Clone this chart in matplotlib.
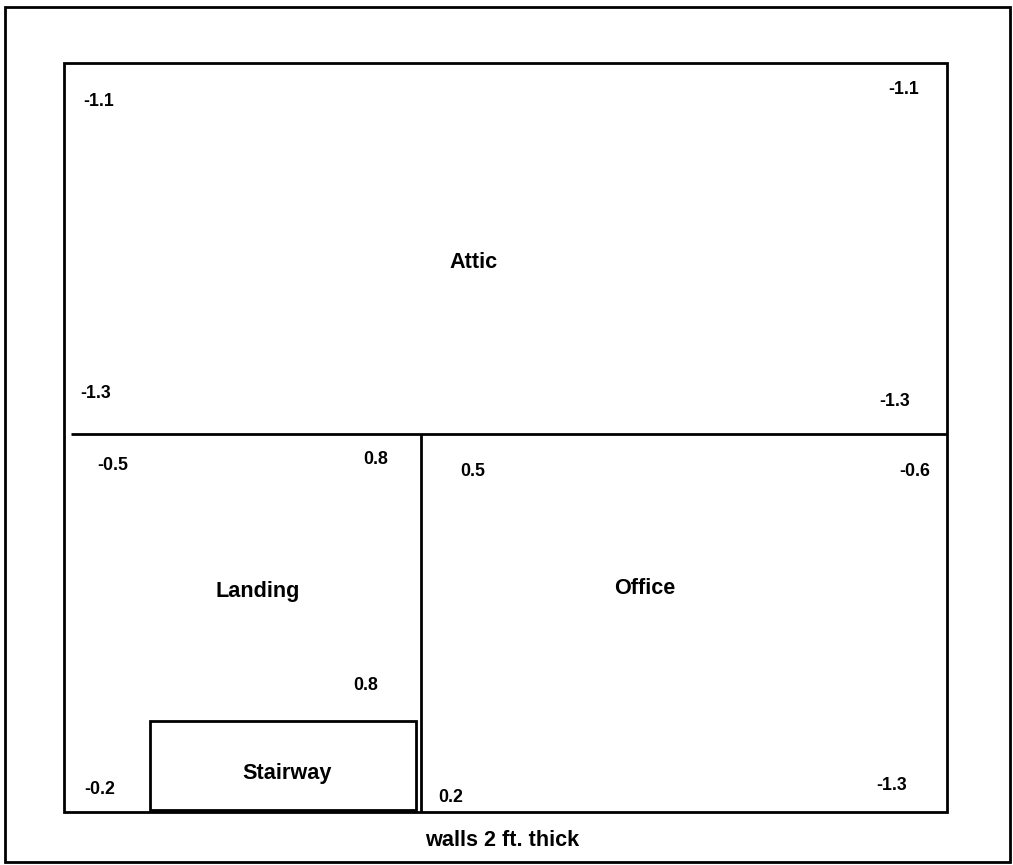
# floor plan with pressure readings per room
import matplotlib
matplotlib.use('Agg')
import matplotlib.pyplot as plt

W, H = 1013, 865

# Room outlines, in picture pixels: x, y, width, height
frame = (5, 7, 1005, 855)
building = (64, 63, 883, 749)
stairway = (149.5, 721, 266.5, 89)

# Wall lines: (x0, y0), (x1, y1)
walls = [((71, 434), (947, 434)), ((420.5, 434), (420.5, 812))]

room_labels = ['Attic', 'Landing', 'Office', 'Stairway', 'walls 2 ft. thick']
room_x = [474, 258, 645, 287, 502]
room_y = [263, 591, 589, 773, 841]

readings = ['-1.1', '-1.1', '-1.3', '-1.3', '-0.5', '0.8', '0.5', '-0.6',
            '0.8', '-0.2', '0.2', '-1.3']
reading_x = [99, 904, 96, 895, 113, 376, 473, 915, 366, 100, 451, 892]
reading_y = [101, 90, 394, 401, 466, 460, 472, 472, 685, 790, 797, 785]

plt.rcParams['font.family'] = ['Liberation Sans', 'DejaVu Sans']

fig = plt.figure(figsize=(W / 100, H / 100), dpi=100)
ax = fig.add_axes([0, 0, 1, 1])
ax.set_xlim(0, W)
ax.set_ylim(H, 0)
ax.axis('off')

for x, y, w, h in [frame, building, stairway]:
    ax.add_patch(plt.Rectangle((x, y), w, h, fill=False, edgecolor='black', linewidth=2.0))

for (x0, y0), (x1, y1) in walls:
    ax.plot([x0, x1], [y0, y1], color='black', linewidth=2.0, solid_capstyle='butt')

for label, x, y in zip(room_labels, room_x, room_y):
    ax.text(x, y, label, fontsize=15.6, fontweight='bold', ha='center', va='center')

for label, x, y in zip(readings, reading_x, reading_y):
    ax.text(x, y, label, fontsize=12.8, fontweight='bold', ha='center', va='center')

fig.savefig('out.png', dpi=100)
